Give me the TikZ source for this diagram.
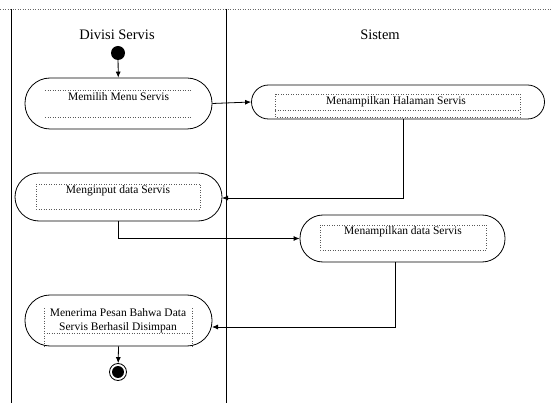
\documentclass[tikz,border=0pt]{standalone}
\usepackage{fontspec}
\setmainfont{Liberation Serif}
\usetikzlibrary{arrows.meta}
\begin{document}
\begin{tikzpicture}[x=1pt,y=-1pt,
  lane/.style={line width=0.9pt},
  activity/.style={draw,line width=0.8pt,inner sep=0pt},
  guide/.style={line width=0.5pt,dotted,gray!70!black},
  flow/.style={line width=0.8pt,-{Latex[length=6pt,width=5pt]}},
  label/.style={font=\fontsize{11.5}{14}\selectfont,inner sep=0pt,align=center},
  title/.style={font=\fontsize{14.5}{16}\selectfont,inner sep=0pt}]
\useasboundingbox (0,0) rectangle (551,403);
% swimlane frame
\draw[guide,black!60] (0,9) -- (551,9);
\draw[lane] (11,9) -- (11,403);
\draw[lane] (226,9) -- (226,403);
\node[title] (lane1) at (117,35) {Divisi Servis};
\node[title] (lane2) at (380,35) {Sistem};
% initial node
\node[circle,fill=black,minimum size=14pt,inner sep=0pt] (start) at (118,53) {};
% activities
\node[activity,minimum width=187pt,minimum height=51pt,rounded corners=25pt] (a1) at (118.5,103.5) {};
\node[activity,minimum width=293pt,minimum height=34pt,rounded corners=17pt] (a2) at (398,102) {};
\node[activity,minimum width=207pt,minimum height=48pt,rounded corners=24pt] (a3) at (118.5,197) {};
\node[activity,minimum width=205pt,minimum height=47pt,rounded corners=23pt] (a4) at (402.5,238.5) {};
\node[activity,minimum width=187pt,minimum height=51pt,rounded corners=25pt] (a5) at (118.5,320.5) {};
% dotted text frames
\draw[guide] (45,90) -- (192,90);
\draw[guide] (45,117) -- (192,117);
\draw[guide] (275,94) rectangle (520,117);
\draw[guide] (275,110) -- (520,110);
\draw[guide] (36,184) rectangle (200,209);
\draw[guide] (320,225) rectangle (486,250);
\draw[guide] (44,308) -- (44,347);
\draw[guide] (192,308) -- (192,347);
\draw[guide] (44,333) -- (192,333);
% labels
\node[label] (t1) at (118.5,97) {Memilih Menu Servis};
\node[label] (t2) at (396,102) {Menampilkan Halaman Servis};
\node[label] (t3) at (118,191) {Menginput data Servis};
\node[label] (t4) at (403,232) {Menampilkan data Servis};
\node[label] (t5) at (118,320.5) {Menerima Pesan Bahwa Data\\Servis Berhasil Disimpan};
% final node
\node[circle,draw,line width=0.8pt,minimum size=17pt,inner sep=0pt] (end) at (118,372) {};
\node[circle,fill=black,minimum size=12pt,inner sep=0pt] (endin) at (end.center) {};
% control flow
\coordinate (a2out) at (403,119);
\coordinate (a3in) at (222,198);
\coordinate (a4out) at (395,262);
\coordinate (a5in) at (212,327);
\draw[flow] (start) -- (a1);
\draw[flow] (a1.east) -- (a2.west);
\draw[flow] (a2out) |- (a3in);
\draw[flow] (a3.south) |- (a4.west);
\draw[flow] (a4out) |- (a5in);
\draw[flow] (a5.south) -- (end);
\end{tikzpicture}
\end{document}
